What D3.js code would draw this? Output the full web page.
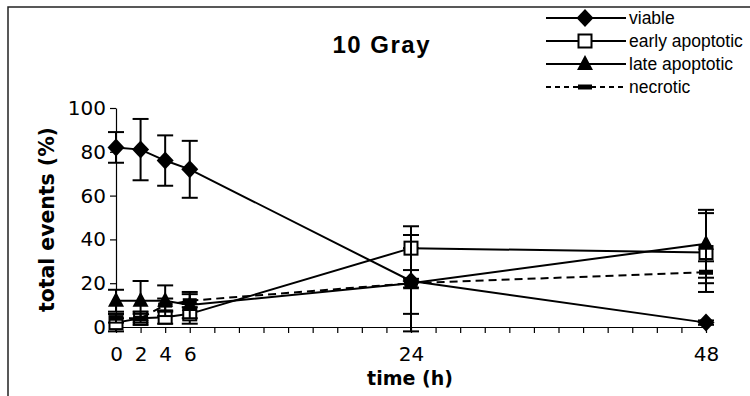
<!DOCTYPE html>
<html>
<head>
<meta charset="utf-8">
<script src="https://cdn.jsdelivr.net/npm/d3@7"></script>
<style>
  html, body { margin: 0; padding: 0; background: #fff; }
  svg { display: block; }
</style>
</head>
<body>
<svg id="chart" width="750" height="396"></svg>
<script>
// ---------- data ----------
const hours = [0, 2, 4, 6, 24, 48];
const viable = [82, 81, 76, 72, 21, 2];
const viableErr = [7, 14, 11.5, 13, 15, 1];
const early = [2, 4, 4.5, 6, 36, 34];
const earlyErr = [4, 3, 3, 4.5, 10, 18];
const late = [12, 12, 12, 10, 20, 38];
const lateErr = [5, 9, 7, 6, 22, 15.5];
const necrotic = [4, 4, 10, 12, 20, 25];
const necroticErr = [2, 2, 3, 3, 2, 5];
const seriesNames = ["viable", "early apoptotic", "late apoptotic", "necrotic"];
const xTickLabels = [0, 2, 4, 6, 24, 48];
const xMinorTicks = d3.range(0, 49, 2);
const yTickLabels = [0, 20, 40, 60, 80, 100];
const titleText = "10 Gray";
const xTitle = "time (h)";
const yTitle = "total events (%)";

// ---------- setup ----------
const svg = d3.select("#chart");
const x = d3.scaleLinear().domain([0, 48]).range([116, 706]);
const y = d3.scaleLinear().domain([0, 100]).range([327, 108]);

// outer frame
svg.append("rect").attr("x", 8).attr("y", 7).attr("width", 760).attr("height", 400)
  .attr("fill", "none").attr("stroke", "#222").attr("stroke-width", 1.5);

// title
svg.append("text").attr("x", 381).attr("y", 53).attr("text-anchor", "middle")
  .attr("font-family", "Liberation Sans, Arial, sans-serif").attr("font-weight", "bold")
  .attr("font-size", 24).attr("textLength", 97).attr("lengthAdjust", "spacing")
  .text(titleText);

// axes
const yAxis = d3.axisLeft(y).tickValues(yTickLabels).tickSize(6).tickPadding(4).tickSizeOuter(0);
const gy = svg.append("g").attr("transform", `translate(${x(0)},0)`).call(yAxis);
gy.selectAll("text").attr("font-family", "DejaVu Sans, Verdana, sans-serif").attr("font-size", 20).attr("fill", "#000");
gy.selectAll("line, path").attr("stroke", "#000").attr("stroke-width", 1.2);

const xAxisMinor = d3.axisBottom(x).tickValues(xMinorTicks).tickSize(6).tickFormat("").tickSizeOuter(0);
const gx = svg.append("g").attr("transform", `translate(0,${y(0)})`).call(xAxisMinor);
gx.selectAll("line, path").attr("stroke", "#000").attr("stroke-width", 1.2);
const xAxisLabels = d3.axisBottom(x).tickValues(xTickLabels).tickSize(0).tickPadding(20).tickSizeOuter(0);
const gx2 = svg.append("g").attr("transform", `translate(0,${y(0)})`).call(xAxisLabels);
gx2.select("path").remove();
gx2.selectAll("text").attr("font-family", "DejaVu Sans, Verdana, sans-serif").attr("font-size", 20).attr("fill", "#000");

// axis titles
svg.append("text").attr("x", 410).attr("y", 385).attr("text-anchor", "middle")
  .attr("font-family", "DejaVu Sans, Verdana, sans-serif").attr("font-weight", "bold")
  .attr("font-size", 19).text(xTitle);
svg.append("text").attr("transform", "translate(54,219.5) rotate(-90)").attr("text-anchor", "middle")
  .attr("font-family", "DejaVu Sans, Verdana, sans-serif").attr("font-weight", "bold")
  .attr("font-size", 20.5).attr("textLength", 185).attr("lengthAdjust", "spacing").text(yTitle);

// ---------- series ----------
const series = [
  { name: seriesNames[0], vals: viable, err: viableErr, dash: null, marker: "diamond" },
  { name: seriesNames[1], vals: early, err: earlyErr, dash: null, marker: "square" },
  { name: seriesNames[2], vals: late, err: lateErr, dash: null, marker: "triangle" },
  { name: seriesNames[3], vals: necrotic, err: necroticErr, dash: "8,5", marker: "dash" }
];

function drawMarker(g, type, cx, cy) {
  if (type === "diamond") {
    g.append("path").attr("d", `M${cx},${cy - 9}L${cx + 8.5},${cy}L${cx},${cy + 9}L${cx - 8.5},${cy}Z`).attr("fill", "#000");
  } else if (type === "square") {
    g.append("rect").attr("x", cx - 6.5).attr("y", cy - 6.5).attr("width", 13).attr("height", 13)
      .attr("fill", "#fff").attr("stroke", "#000").attr("stroke-width", 2);
  } else if (type === "triangle") {
    g.append("path").attr("d", `M${cx},${cy - 9}L${cx + 8},${cy + 6}L${cx - 8},${cy + 6}Z`).attr("fill", "#000");
  } else if (type === "dash") {
    g.append("rect").attr("x", cx - 7).attr("y", cy - 2.5).attr("width", 14).attr("height", 5).attr("fill", "#000");
  }
}

const line = d3.line().x((d, i) => x(hours[i])).y(d => y(d));
const plot = svg.append("g");

series.forEach(s => {
  const g = plot.append("g");
  // error bars
  s.vals.forEach((v, i) => {
    const cx = x(hours[i]);
    const top = y(v + s.err[i]), bot = y(v - s.err[i]);
    g.append("line").attr("x1", cx).attr("x2", cx).attr("y1", top).attr("y2", bot).attr("stroke", "#000").attr("stroke-width", 2);
    [top, bot].forEach(yy => g.append("line").attr("x1", cx - 8).attr("x2", cx + 8).attr("y1", yy).attr("y2", yy)
      .attr("stroke", "#000").attr("stroke-width", 2));
  });
  // line
  g.append("path").datum(s.vals).attr("d", line).attr("fill", "none").attr("stroke", "#000")
    .attr("stroke-width", 2).attr("stroke-dasharray", s.dash);
  // markers
  s.vals.forEach((v, i) => drawMarker(g, s.marker, x(hours[i]), y(v)));
});

// ---------- legend ----------
const legend = svg.append("g");
const legendRows = [18, 41, 64, 87];
series.forEach((s, i) => {
  const ly = legendRows[i];
  legend.append("line").attr("x1", 546).attr("x2", 626).attr("y1", ly).attr("y2", ly)
    .attr("stroke", "#000").attr("stroke-width", 2).attr("stroke-dasharray", s.dash ? "5,4" : null);
  drawMarker(legend, s.marker, 585, ly);
  legend.append("text").attr("x", 629).attr("y", ly + 6)
    .attr("font-family", "Liberation Sans, Arial, sans-serif").attr("font-size", 17.5)
    .text(s.name);
});
</script>
</body>
</html>
